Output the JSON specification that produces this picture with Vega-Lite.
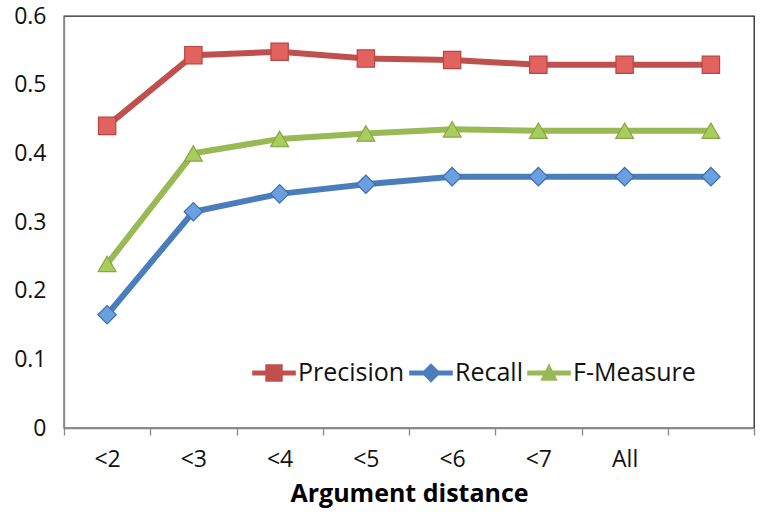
{
  "$schema": "https://vega.github.io/schema/vega-lite/v6.json",
  "width": 690,
  "height": 412,
  "autosize": "none",
  "padding": {"left": 64, "top": 16, "right": 8, "bottom": 94},
  "background": "white",
  "config": {
    "font": "Open Sans",
    "view": {"stroke": "#222222", "strokeWidth": 1.3}
  },
  "data": {
    "values": [
      {"distance": "<2", "metric": "Precision", "value": 0.440},
      {"distance": "<3", "metric": "Precision", "value": 0.543},
      {"distance": "<4", "metric": "Precision", "value": 0.548},
      {"distance": "<5", "metric": "Precision", "value": 0.538},
      {"distance": "<6", "metric": "Precision", "value": 0.536},
      {"distance": "<7", "metric": "Precision", "value": 0.529},
      {"distance": "All", "metric": "Precision", "value": 0.529},
      {"distance": "", "metric": "Precision", "value": 0.529},
      {"distance": "<2", "metric": "Recall", "value": 0.165},
      {"distance": "<3", "metric": "Recall", "value": 0.315},
      {"distance": "<4", "metric": "Recall", "value": 0.341},
      {"distance": "<5", "metric": "Recall", "value": 0.355},
      {"distance": "<6", "metric": "Recall", "value": 0.366},
      {"distance": "<7", "metric": "Recall", "value": 0.366},
      {"distance": "All", "metric": "Recall", "value": 0.366},
      {"distance": "", "metric": "Recall", "value": 0.366},
      {"distance": "<2", "metric": "F-Measure", "value": 0.239},
      {"distance": "<3", "metric": "F-Measure", "value": 0.400},
      {"distance": "<4", "metric": "F-Measure", "value": 0.421},
      {"distance": "<5", "metric": "F-Measure", "value": 0.429},
      {"distance": "<6", "metric": "F-Measure", "value": 0.435},
      {"distance": "<7", "metric": "F-Measure", "value": 0.433},
      {"distance": "All", "metric": "F-Measure", "value": 0.433},
      {"distance": "", "metric": "F-Measure", "value": 0.433}
    ]
  },
  "encoding": {
    "x": {
      "field": "distance",
      "type": "ordinal",
      "sort": ["<2", "<3", "<4", "<5", "<6", "<7", "All", ""],
      "scale": {"paddingInner": 0, "paddingOuter": 0},
      "axis": {
        "title": "Argument distance",
        "titleFont": "Open Sans",
        "titleFontSize": 25,
        "titleFontWeight": "bold",
        "titleColor": "#000000",
        "titlePadding": 10,
        "labelAngle": 0,
        "labelFontSize": 23,
        "labelColor": "#111111",
        "labelPadding": 13,
        "domainColor": "#888888",
        "domainWidth": 1.3,
        "tickColor": "#888888",
        "tickSize": 7,
        "tickWidth": 1.3,
        "tickBand": "extent",
        "grid": false
      }
    },
    "y": {
      "field": "value",
      "type": "quantitative",
      "scale": {"domain": [0, 0.6], "nice": false},
      "axis": {
        "title": null,
        "values": [0, 0.1, 0.2, 0.3, 0.4, 0.5, 0.6],
        "format": "~g",
        "labelFontSize": 23,
        "labelColor": "#111111",
        "labelPadding": 18,
        "ticks": false,
        "domainColor": "#888888",
        "domainWidth": 1.3,
        "grid": false
      }
    }
  },
  "layer": [
    {
      "mark": {"type": "line", "strokeWidth": 6},
      "encoding": {
        "color": {
          "field": "metric",
          "type": "nominal",
          "sort": ["Precision", "Recall", "F-Measure"],
          "scale": {
            "domain": ["Precision", "Recall", "F-Measure"],
            "range": ["#C0504D", "#4A7EBB", "#98B954"]
          },
          "legend": {
            "title": null,
            "orient": "none",
            "legendX": 188,
            "legendY": 335,
            "direction": "horizontal",
            "labelFontSize": 25,
            "labelColor": "#111111",
            "labelOffset": 2,
            "columnPadding": 4,
            "symbolSize": 1900,
            "symbolStrokeWidth": 0,
            "encode": {
              "symbols": {
                "update": {
                  "shape": {"signal": "datum.value === 'Precision' ? 'M-1,-0.12H-0.4V-0.4H0.4V-0.12H1V0.12H0.4V0.4H-0.4V0.12H-1Z' : (datum.value === 'Recall' ? 'M-1,-0.12H-0.33L0,-0.45L0.33,-0.12H1V0.12H0.33L0,0.45L-0.33,0.12H-1Z' : 'M-1,-0.12H-0.165L0,-0.45L0.165,-0.12H1V0.12H0.285L0.4,0.35H-0.4L-0.285,0.12H-1Z')"},
                  "fill": {"scale": "color", "field": "value"},
                  "fillOpacity": {"value": 1},
                  "strokeWidth": {"value": 0}
                }
              }
            }
          }
        }
      }
    },
    {
      "transform": [{"filter": {"field": "metric", "equal": "Precision"}}],
      "mark": {"type": "point", "shape": "square", "filled": true, "size": 300, "opacity": 1, "fill": "#E2625F", "stroke": "#B84541", "strokeWidth": 1.2}
    },
    {
      "transform": [{"filter": {"field": "metric", "equal": "Recall"}}],
      "mark": {"type": "point", "shape": "diamond", "filled": true, "size": 340, "opacity": 1, "fill": "#6A9FE0", "stroke": "#3D6EB0", "strokeWidth": 1.2}
    },
    {
      "transform": [{"filter": {"field": "metric", "equal": "F-Measure"}}],
      "mark": {"type": "point", "shape": "triangle-up", "filled": true, "size": 320, "opacity": 1, "fill": "#A9CD5C", "stroke": "#86A845", "strokeWidth": 1.2}
    }
  ]
}
